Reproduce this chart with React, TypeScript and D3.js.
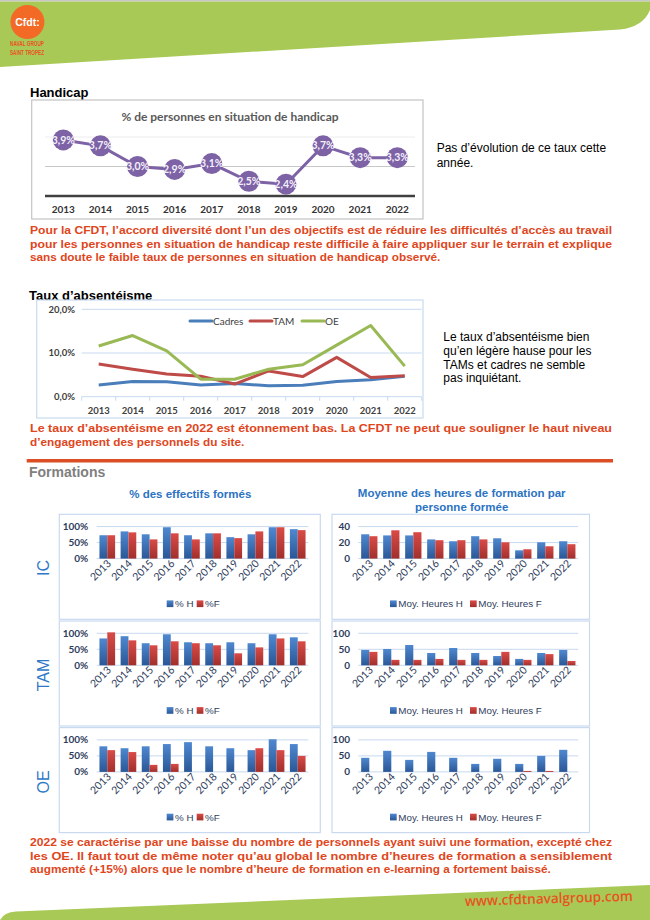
import * as d3 from "d3";

// ---- data ----
const YEARS = ["2013", "2014", "2015", "2016", "2017", "2018", "2019", "2020", "2021", "2022"];

const HANDICAP = [3.9, 3.7, 3.0, 2.9, 3.1, 2.5, 2.4, 3.7, 3.3, 3.3];

const ABS_CADRES = [2.7, 3.5, 3.4, 2.7, 3.0, 2.5, 2.6, 3.5, 3.9, 4.7];
const ABS_TAM = [7.5, 6.3, 5.2, 4.7, 2.9, 5.9, 4.6, 9.0, 4.4, 4.8];
const ABS_OE = [11.6, 14.0, 10.5, 4.0, 4.0, 6.3, 7.3, 11.8, 16.3, 7.0];
const ABS_TICKS = [0, 10, 20];

const IC_PCT_H = [73, 85, 76, 98, 73, 79, 67, 76, 98, 92];
const IC_PCT_F = [73, 82, 60, 79, 60, 79, 64, 85, 98, 89];
const IC_HRS_H = [30.4, 29, 29, 24, 21.7, 28, 25.4, 10.4, 20.4, 21.7];
const IC_HRS_F = [28, 35.4, 33, 23, 23, 24, 20.4, 11.7, 15.4, 18];

const TAM_PCT_H = [84, 91, 69, 97, 72, 69, 72, 69, 97, 87.5];
const TAM_PCT_F = [103, 78, 62.5, 75, 69, 62.5, 37.5, 56, 84, 75];
const TAM_HRS_H = [48, 51, 63.5, 38.5, 54, 38.5, 29, 20, 38.5, 48];
const TAM_HRS_F = [42, 17, 17, 20, 17, 17, 42, 17, 35, 13.5];

const OE_PCT_H = [80, 74, 80, 87, 93, 80, 74, 68, 102, 87];
const OE_PCT_F = [68, 62, 22, 25, 0, 0, 0, 74, 68, 50];
const OE_HRS_H = [44, 66, 37.5, 62.5, 44, 25, 41, 25, 50, 69];
const OE_HRS_F = [0, 0, 0, 0, 0, 0, 0, 3, 3, 0];

const PCT_TICKS = [0, 50, 100];
const IC_HRS_TICKS = [0, 20, 40];
const HRS_TICKS = [0, 50, 100];

const ROWS = ["IC", "TAM", "OE"];
const PCT_LEGEND = ["% H", "%F"];
const HRS_LEGEND = ["Moy. Heures H", "Moy. Heures F"];

const PARA_HANDICAP = [
  "Pour la CFDT, l’accord diversité dont l’un des objectifs est de réduire les difficultés d’accès au travail",
  "pour les personnes en situation de handicap reste difficile à faire appliquer sur le terrain et explique",
  "sans doute le faible taux de personnes en situation de handicap observé.",
];
const PARA_ABS = [
  "Le taux d’absentéisme en 2022 est étonnement bas. La CFDT ne peut que souligner le haut niveau",
  "d’engagement des personnels du site.",
];
const PARA_FORM = [
  "2022 se caractérise par une baisse du nombre de personnels ayant suivi une formation, excepté chez",
  "les OE. Il faut tout de même noter qu’au global le nombre d’heures de formation a sensiblement",
  "augmenté (+15%) alors que le nombre d’heure de formation en e-learning a fortement baissé.",
];
const NOTE_HANDICAP = ["Pas d’évolution de ce taux cette", "année."];
const NOTE_ABS = ["Le taux d’absentéisme bien", "qu’en légère hause pour les", "TAMs et cadres ne semble", "pas inquiétant."];

const ARIAL = "'Liberation Sans', Arial, sans-serif";
const CALIBRI = "Lato, 'Liberation Sans', sans-serif";
const ORANGE = "#e0461c";
const BLUE_TITLE = "#2b73c3";
const TICK = "#2f3d5c";

function Paragraph({ lines, y, justify }: { lines: string[]; y: number; justify: number }) {
  return (
    <g fontFamily={ARIAL} fontWeight="bold" fontSize={11.8} fill={ORANGE}>
      {lines.map((l, i) => (
        <text
          key={i}
          x={30}
          y={y + i * 13.6}
          textLength={i < justify ? 582 : undefined}
          lengthAdjust="spacingAndGlyphs"
        >
          {l}
        </text>
      ))}
    </g>
  );
}

function HandicapChart() {
  const x = d3.scalePoint<string>().domain(YEARS).range([63.3, 397.3]);
  const y = d3.scaleLinear().domain([2, 4]).range([196, 137]);
  const line = d3
    .line<number>()
    .x((_, i) => x(YEARS[i]) ?? 0)
    .y((d) => y(d));
  return (
    <g>
      <rect x={31.7} y={100} width={391.3} height={119} fill="#fff" stroke="#c4c4c4" strokeWidth={1.2} />
      <text x={230} y={121} textAnchor="middle" fontFamily={CALIBRI} fontWeight="bold" fontSize={12} fill="#595959">
        % de personnes en situation de handicap
      </text>
      <line x1={45} x2={415} y1={y(4)} y2={y(4)} stroke="#ececec" strokeWidth={1} />
      <line x1={45} x2={415} y1={y(3)} y2={y(3)} stroke="#c8c8c8" strokeWidth={1} />
      <line x1={45} x2={415} y1={y(2)} y2={y(2)} stroke="#404040" strokeWidth={2.5} />
      <path d={line(HANDICAP) ?? ""} fill="none" stroke="#7d62a6" strokeWidth={3} />
      {HANDICAP.map((v, i) => (
        <g key={YEARS[i]} transform={`translate(${x(YEARS[i])},${y(v)})`}>
          <circle r={10.5} fill="#7d62a6" />
          <text y={3.6} textAnchor="middle" fontFamily={CALIBRI} fontWeight="bold" fontSize={10.5} fill="#f4f0fa">
            {`${v.toFixed(1).replace(".", ",")}%`}
          </text>
        </g>
      ))}
      {YEARS.map((yr) => (
        <text key={yr} x={x(yr)} y={212.5} textAnchor="middle" fontFamily={CALIBRI} fontWeight="bold" fontSize={10} fill="#333">
          {yr}
        </text>
      ))}
    </g>
  );
}

const ABS_SERIES = [
  { name: "Cadres", values: ABS_CADRES, color: "#4a7ebb", lx: 190 },
  { name: "TAM", values: ABS_TAM, color: "#be4b48", lx: 250 },
  { name: "OE", values: ABS_OE, color: "#98b954", lx: 302 },
];

function AbsenteeismChart() {
  const x = d3.scaleBand<string>().domain(YEARS).range([81.7, 421.7]);
  const y = d3.scaleLinear().domain([0, 20]).range([396.7, 309.3]);
  const line = d3
    .line<number>()
    .x((_, i) => (x(YEARS[i]) ?? 0) + x.bandwidth() / 2)
    .y((d) => y(d));
  return (
    <g>
      <rect x={36.7} y={300} width={386.3} height={118} fill="#fff" stroke="#c9daf0" strokeWidth={1.2} />
      {ABS_TICKS.map((t) => (
        <g key={t}>
          <line x1={81.7} x2={421.7} y1={y(t)} y2={y(t)} stroke="#c7d9ef" strokeWidth={1} />
          <text x={75} y={y(t) + 3.3} textAnchor="end" fontFamily={CALIBRI} fontWeight="bold" fontSize={9.5} fill="#404040">
            {`${t.toFixed(1).replace(".", ",")}%`}
          </text>
        </g>
      ))}
      {[...YEARS.map((yr) => x(yr) ?? 0), 421.7].map((bx, i) => (
        <line key={i} x1={bx} x2={bx} y1={y(0)} y2={y(0) + 4} stroke="#c7d9ef" strokeWidth={1} />
      ))}
      {ABS_SERIES.map((s) => (
        <path key={s.name} d={line(s.values) ?? ""} fill="none" stroke={s.color} strokeWidth={3} strokeLinejoin="round" />
      ))}
      {YEARS.map((yr) => (
        <text key={yr} x={(x(yr) ?? 0) + x.bandwidth() / 2} y={414} textAnchor="middle" fontFamily={CALIBRI} fontWeight="bold" fontSize={9.5} fill="#404040">
          {yr}
        </text>
      ))}
      {ABS_SERIES.map((s) => (
        <g key={s.name}>
          <line x1={s.lx} x2={s.lx + 22} y1={321} y2={321} stroke={s.color} strokeWidth={3} strokeLinecap="round" />
          <text x={s.lx + 23} y={324.5} fontFamily={CALIBRI} fontSize={10} fill="#404040">
            {s.name}
          </text>
        </g>
      ))}
    </g>
  );
}

type Side = { boxL: number; boxR: number; plotL: number; plotR: number; tickX: number; legendX: number[]; labels: string[] };

const LEFT: Side = { boxL: 59.3, boxR: 320.3, plotL: 96.7, plotR: 308.3, tickX: 88.3, legendX: [166.7, 196.7], labels: PCT_LEGEND };
const RIGHT: Side = { boxL: 332, boxR: 589.5, plotL: 358.3, plotR: 578.3, tickX: 350, legendX: [390, 470], labels: HRS_LEGEND };

function BarPanel({
  side,
  top,
  max,
  ticks,
  fmt,
  h,
  f,
}: {
  side: Side;
  top: number;
  max: number;
  ticks: number[];
  fmt: (v: number) => string;
  h: number[];
  f: number[];
}) {
  const x = d3.scaleBand<string>().domain(YEARS).range([side.plotL, side.plotR]).paddingInner(0.26).paddingOuter(0.13);
  const inner = d3.scaleBand<string>().domain(["H", "F"]).range([0, x.bandwidth()]);
  const yZero = top + 44.3;
  const y = d3.scaleLinear().domain([0, max]).range([yZero, top + 12.3]);
  const legendY = top + 89.5;
  return (
    <g>
      <rect x={side.boxL} y={top} width={side.boxR - side.boxL} height={105} fill="#fff" stroke="#c9daf0" strokeWidth={1.2} />
      {ticks.map((t) => (
        <g key={t}>
          <line x1={side.plotL} x2={side.plotR} y1={y(t)} y2={y(t)} stroke="#c7d9ef" strokeWidth={1} />
          <text x={side.tickX} y={y(t) + 3.4} textAnchor="end" fontFamily={CALIBRI} fontWeight="bold" fontSize={10} fill={TICK}>
            {fmt(t)}
          </text>
        </g>
      ))}
      {YEARS.map((yr, i) => {
        const bx = x(yr) ?? 0;
        return (
          <g key={yr}>
            {h[i] > 0 && (
              <rect x={bx + (inner("H") ?? 0)} y={y(h[i])} width={inner.bandwidth()} height={yZero - y(h[i])} fill="url(#gBlue)" />
            )}
            {f[i] > 0 && (
              <rect x={bx + (inner("F") ?? 0)} y={y(f[i])} width={inner.bandwidth()} height={yZero - y(f[i])} fill="url(#gRed)" />
            )}
            <text
              transform={`translate(${bx + x.bandwidth() / 2 + 4.5},${yZero + 5.5}) rotate(-45)`}
              textAnchor="end"
              fontFamily={CALIBRI}
              fontSize={10.5}
              fill={TICK}
            >
              {yr}
            </text>
          </g>
        );
      })}
      {side.labels.map((lab, i) => (
        <g key={lab}>
          <rect x={side.legendX[i]} y={legendY - 3.4} width={6.7} height={6.7} fill={i === 0 ? "url(#gBlue)" : "url(#gRed)"} />
          <text x={side.legendX[i] + 8.3} y={legendY + 3.4} fontFamily={ARIAL} fontSize={9.8} fill={TICK}>
            {lab}
          </text>
        </g>
      ))}
    </g>
  );
}

const PANEL_TOPS = [514.3, 621, 727.6];
const ROW_LABEL_Y = [568, 675, 782];

export default function App() {
  const pct = (v: number) => `${v}%`;
  const num = (v: number) => `${v}`;
  const rows = [
    { pH: IC_PCT_H, pF: IC_PCT_F, hH: IC_HRS_H, hF: IC_HRS_F, hMax: 40, hTicks: IC_HRS_TICKS },
    { pH: TAM_PCT_H, pF: TAM_PCT_F, hH: TAM_HRS_H, hF: TAM_HRS_F, hMax: 100, hTicks: HRS_TICKS },
    { pH: OE_PCT_H, pF: OE_PCT_F, hH: OE_HRS_H, hF: OE_HRS_F, hMax: 100, hTicks: HRS_TICKS },
  ];
  return (
    <svg width={650} height={920} style={{ position: "absolute", left: 0, top: 0, background: "#fff" }}>
      <defs>
        <linearGradient id="gBlue" x1="0" y1="0" x2="0" y2="1">
          <stop offset="0" stopColor="#4f88d0" />
          <stop offset="1" stopColor="#2a5796" />
        </linearGradient>
        <linearGradient id="gRed" x1="0" y1="0" x2="0" y2="1">
          <stop offset="0" stopColor="#d94b47" />
          <stop offset="1" stopColor="#a12f2c" />
        </linearGradient>
      </defs>

      {/* header band */}
      <rect x={0} y={0} width={650} height={1.5} fill="#c8c8c8" />
      <path d="M0,1.5 L650,1.5 L650,10 Q643,27 620,29.5 L0,67 Z" fill="#a9c957" />
      <circle cx={27.4} cy={22} r={17} fill="#f26a25" />
      <text x={27.4} y={25.5} textAnchor="middle" fontFamily={ARIAL} fontWeight="bold" fontSize={10.5} fill="#fff">
        Cfdt:
      </text>
      <text x={10} y={46} fontFamily={ARIAL} fontWeight="bold" fontSize={7} fill="#e8531f" textLength={34} lengthAdjust="spacingAndGlyphs">
        NAVAL GROUP
      </text>
      <text x={10} y={55} fontFamily={ARIAL} fontWeight="bold" fontSize={7} fill="#e8531f" textLength={34} lengthAdjust="spacingAndGlyphs">
        SAINT TROPEZ
      </text>

      {/* handicap */}
      <text x={30} y={97} fontFamily={ARIAL} fontWeight="bold" fontSize={13} fill="#000">
        Handicap
      </text>
      <HandicapChart />
      <g fontFamily={ARIAL} fontSize={12} fill="#000">
        {NOTE_HANDICAP.map((l, i) => (
          <text key={i} x={436.7} y={152.3 + i * 15}>
            {l}
          </text>
        ))}
      </g>
      <Paragraph lines={PARA_HANDICAP} y={234} justify={2} />

      {/* absenteeism */}
      <text x={29} y={300} fontFamily={ARIAL} fontWeight="bold" fontSize={13} fill="#000">
        Taux d’absentéisme
      </text>
      <AbsenteeismChart />
      <g fontFamily={ARIAL} fontSize={12} fill="#000">
        {NOTE_ABS.map((l, i) => (
          <text key={i} x={443.3} y={341 + i * 13.8}>
            {l}
          </text>
        ))}
      </g>
      <Paragraph lines={PARA_ABS} y={432} justify={1} />

      {/* formations */}
      <line x1={26.7} x2={613} y1={460.8} y2={460.8} stroke="#dc4e26" strokeWidth={3.5} />
      <text x={29} y={476.5} fontFamily={ARIAL} fontWeight="bold" fontSize={14} fill="#7f7f7f">
        Formations
      </text>
      <text x={190.3} y={497.7} textAnchor="middle" fontFamily={ARIAL} fontWeight="bold" fontSize={11.5} fill={BLUE_TITLE}>
        % des effectifs formés
      </text>
      <text x={461.7} y={497.3} textAnchor="middle" fontFamily={ARIAL} fontWeight="bold" fontSize={11.5} fill={BLUE_TITLE}>
        Moyenne des heures de formation par
      </text>
      <text x={461.7} y={510.7} textAnchor="middle" fontFamily={ARIAL} fontWeight="bold" fontSize={11.5} fill={BLUE_TITLE}>
        personne formée
      </text>

      {rows.map((r, i) => (
        <g key={ROWS[i]}>
          <BarPanel side={LEFT} top={PANEL_TOPS[i]} max={100} ticks={PCT_TICKS} fmt={pct} h={r.pH} f={r.pF} />
          <BarPanel side={RIGHT} top={PANEL_TOPS[i]} max={r.hMax} ticks={r.hTicks} fmt={num} h={r.hH} f={r.hF} />
          <text
            transform={`translate(49,${ROW_LABEL_Y[i]}) rotate(-90)`}
            textAnchor="middle"
            fontFamily={ARIAL}
            fontSize={16}
            fill="#2e78c7"
          >
            {ROWS[i]}
          </text>
        </g>
      ))}

      <Paragraph lines={PARA_FORM} y={846} justify={2} />

      {/* footer band */}
      <path d="M0,920 Q4,912 16,911.5 L650,885 L650,920 Z" fill="#a9c957" />
      <text
        transform="translate(465,906) rotate(-1.8)"
        fontFamily="'Open Sans', sans-serif"
        fontWeight={600}
        fontSize={14}
        fill="#e8531f"
        textLength={168}
        lengthAdjust="spacingAndGlyphs"
      >
        www.cfdtnavalgroup.com
      </text>
    </svg>
  );
}
